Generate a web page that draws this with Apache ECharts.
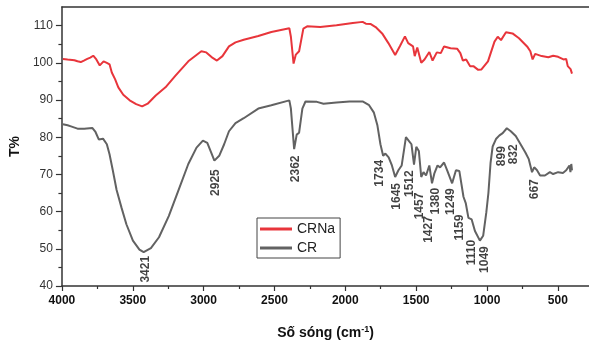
<!DOCTYPE html>
<html><head><meta charset="utf-8">
<script src="https://cdn.jsdelivr.net/npm/echarts@6/dist/echarts.min.js"></script>
<style>html,body{margin:0;padding:0;background:#fff}#c{width:589px;height:345px}</style>
</head><body><div id="c"></div>
<script>
// Wavenumbers (cm-1) and transmittance (%)
const wnCRNa = [3993,3960,3912,3890,3867,3845,3821,3800,3779,3757,3733,3720,3706,3695,3683,3664,3648,3625,3602,3567,3522,3476,3434,3395,3338,3269,3200,3108,3016,2981,2936,2906,2867,2821,2775,2717,2614,2522,2395,2384,2365,2349,2326,2296,2269,2177,2062,1947,1878,1855,1820,1786,1740,1696,1648,1614,1579,1556,1522,1510,1492,1464,1441,1430,1407,1384,1354,1326,1303,1257,1211,1188,1170,1147,1119,1096,1062,1039,993,947,924,901,866,820,774,717,694,678,660,614,567,533,498,460,441,430,418,410,405,400];
const tCRNa  = [101.05,100.9,100.7,100.4,100.2,100.6,101.05,101.4,101.9,100.9,99.3,99.8,100.4,100.2,100,99.6,97.4,95.6,93.4,91.4,89.9,88.9,88.3,89,91.2,93.4,96.5,100.4,103.1,102.8,101.3,100.6,101.8,104.4,105.5,106.2,107.2,108.3,109.3,107,99.8,102.2,103.1,109.2,109.8,109.6,110.1,110.7,111,110.5,110.4,109.6,107.9,105.3,102.1,104.5,107.1,105.3,104.4,101.8,104.1,100,100.9,100.4,102.9,100.6,102.8,102.6,104.4,103.9,103.8,102.6,100.6,100.9,99.1,99.1,98.1,98.2,100.4,105.7,107,106.1,108.2,107.9,106.6,104.4,103.1,100.9,102.4,101.8,101.5,101.9,101.6,100.9,101,99.1,99,98.3,98.8,97.1];
const wnCR = [3993,3960,3936,3890,3843,3786,3763,3740,3710,3683,3664,3641,3614,3579,3545,3499,3453,3423,3372,3315,3246,3177,3108,3050,3005,2974,2947,2924,2890,2855,2821,2775,2717,2614,2522,2395,2384,2361,2343,2326,2303,2281,2200,2154,2062,1970,1878,1832,1798,1774,1752,1733,1717,1694,1671,1648,1625,1602,1572,1549,1533,1515,1499,1481,1464,1448,1430,1407,1388,1372,1349,1331,1303,1281,1246,1219,1195,1166,1150,1131,1108,1085,1050,1027,1005,990,975,960,935,912,889,860,832,797,763,729,705,682,667,648,625,591,556,533,498,464,441,418,411,405,400];
const tCR  = [83.5,83.2,82.9,82.3,82.3,82.5,81.4,79.4,79.6,78.1,75.4,71.1,65.8,61,56.6,52.2,49.8,49.1,50.2,53.1,58.8,65.8,72.8,77.2,79.1,78.5,75.9,73.7,75,78.1,81.6,83.8,85.1,87.7,88.6,89.9,87.7,76.8,80.7,81.2,87.7,89.6,89.5,89,89.3,89.6,89.6,88.6,86.6,83.3,78.1,75,75.6,74.6,72.4,69.3,71.1,72.4,80,78.9,78.1,72.6,77.4,76.3,69.3,70.6,69.7,72.4,67.6,70.2,72.4,71.9,73.2,71.1,67.6,71.1,70.9,64,62.3,58.3,57.9,54.8,52.2,53.5,59.7,65,73,77.5,79.6,80.5,81.1,82.4,81.6,80.3,78.1,75.9,74.1,70.6,71.9,71.2,69.7,69.7,70.6,70.1,70.6,70.4,71.1,72.4,70.6,72.8,71.1];
// Peak annotations: text and anchor (wavenumber, T%) of the label
const peakText = ['3421','2925','2362','1734','1645','1512','1457','1427','1380','1249','1159','1110','1049','899','832','667'];
const peakWn   = [3408,2914,2351,1759,1639,1547,1474,1410,1364,1257,1191,1111,1019,893,812,664];
const peakT    = [44.5,67.8,71.5,70.3,64.1,67.5,61.5,55.2,62.8,62.7,55.7,49,47.1,74.9,75.4,66];
const seriesNames = ['CRNa','CR'];
const xMajor = [500,1000,1500,2000,2500,3000,3500,4000];
const xMinor = [750,1250,1750,2250,2750,3250,3750];
const yMajor = [40,50,60,70,80,90,100,110];
const yMinor = [45,55,65,75,85,95,105];

const zip = (a,b)=>a.map((v,i)=>[v,b[i]]);
const FF = "'Liberation Sans', Arial, sans-serif";
const axisCol = '#333';
const chart = echarts.init(document.getElementById('c'), null, {renderer:'canvas'});
const xBase = {type:'value', min:280, max:4000, inverse:true, splitLine:{show:false}};
const yBase = {type:'value', min:40, max:115, splitLine:{show:false}};
const plain = v => String(v);
chart.setOption({
  animation:false,
  grid:{left:49, right:0, top:7, bottom:52},
  legend:{
    data:seriesNames, orient:'vertical', left:257, top:218,
    padding:[3,5,2,3], itemGap:3, itemWidth:32, itemHeight:3, icon:'rect',
    borderColor:'#444', borderWidth:1, backgroundColor:'#fff',
    textStyle:{fontFamily:FF, fontSize:14, color:'#222', lineHeight:16}
  },
  xAxis:[
    Object.assign({}, xBase, {position:'bottom',
      name:'Số sóng (cm{sup|-1})', nameLocation:'middle', nameGap:39,
      nameTextStyle:{fontFamily:FF, fontSize:14, fontWeight:'bold', color:'#111',
        rich:{sup:{fontFamily:FF, fontSize:9, fontWeight:'bold', color:'#111', verticalAlign:'top', padding:[0,0,7,0]}}},
      axisLine:{show:true, lineStyle:{color:axisCol, width:1.5}},
      axisTick:{show:true, inside:false, length:5, customValues:xMajor, lineStyle:{color:axisCol, width:1.2}},
      axisLabel:{show:true, customValues:xMajor, formatter:plain, margin:9, fontFamily:FF, fontSize:12, fontWeight:'bold', color:'#111'}}),
    Object.assign({}, xBase, {position:'bottom',
      axisLine:{show:false},
      axisTick:{show:true, length:3, customValues:xMinor, lineStyle:{color:axisCol, width:1.2}},
      axisLabel:{show:false}}),
    Object.assign({}, xBase, {position:'top',
      axisLine:{show:true, lineStyle:{color:axisCol, width:1.5}},
      axisTick:{show:false}, axisLabel:{show:false}})
  ],
  yAxis:[
    Object.assign({}, yBase, {position:'left',
      name:'T%', nameLocation:'middle', nameGap:29, nameRotate:90,
      nameTextStyle:{fontFamily:FF, fontSize:14, fontWeight:'bold', color:'#111'},
      axisLine:{show:true, lineStyle:{color:axisCol, width:1.5}},
      axisTick:{show:true, length:6, customValues:yMajor, lineStyle:{color:axisCol, width:1.2}},
      axisLabel:{show:true, customValues:yMajor, formatter:plain, margin:9, fontFamily:FF, fontSize:12, color:'#333'}}),
    Object.assign({}, yBase, {position:'left',
      axisLine:{show:false},
      axisTick:{show:true, length:3.5, customValues:yMinor, lineStyle:{color:axisCol, width:1.2}},
      axisLabel:{show:false}})
  ],
  series:[
    {name:seriesNames[0], type:'line', data:zip(wnCRNa,tCRNa), showSymbol:false, symbol:'none',
     lineStyle:{color:'#e8353b', width:2}, itemStyle:{color:'#e8353b'}, z:3},
    {name:seriesNames[1], type:'line', data:zip(wnCR,tCR), showSymbol:false, symbol:'none',
     lineStyle:{color:'#626262', width:2}, itemStyle:{color:'#626262'}, z:3},
    {type:'scatter', symbolSize:0, silent:true, z:5,
     data:peakText.map((t,i)=>({value:[peakWn[i],peakT[i]], name:t})),
     label:{show:true, position:'inside', rotate:90, formatter:p=>p.name,
       fontFamily:FF, fontSize:12, fontWeight:'bold', color:'#111'}}
  ]
});
</script></body></html>
